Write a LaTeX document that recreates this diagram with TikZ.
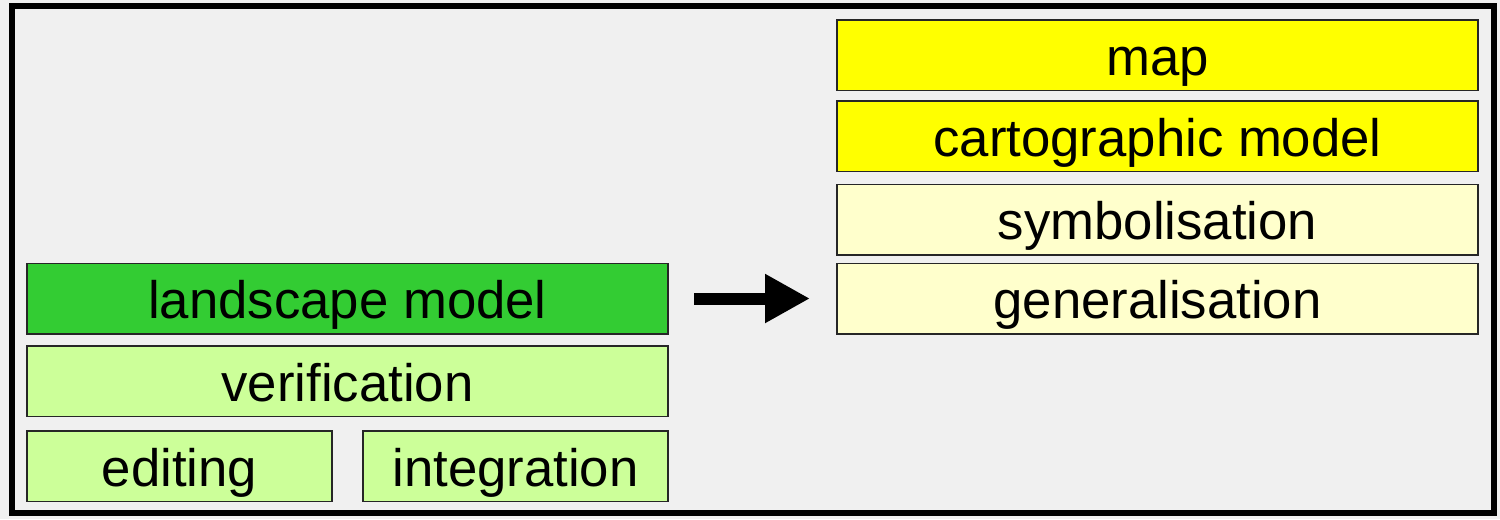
\documentclass[tikz,border=0pt]{standalone}
\usepackage{fontspec}
\setmainfont{Liberation Sans}
\usetikzlibrary{arrows.meta}
\definecolor{bggray}{HTML}{F0F0F0}
\definecolor{landgreen}{HTML}{33CC33}
\definecolor{palegreen}{HTML}{CCFF99}
\definecolor{mapyellow}{HTML}{FFFF00}
\definecolor{paleyellow}{HTML}{FFFFCC}
\tikzset{
	layer/.style={draw=black!85, line width=0.3mm, inner sep=0pt, outer sep=0pt, minimum width=12.82cm, minimum height=1.41cm, text height=29.3pt, text depth=6.5pt, font=\fontsize{30}{36}\selectfont},
	halflayer/.style={layer, minimum width=6.1cm}
}

\begin{document}
\begin{tikzpicture}
		%%%%% START %%%%%
		
		\fill[bggray] (0, 0) rectangle (30, -10.38);
		\draw[line width=0.12cm, color=black] (0.24, -0.12) rectangle (29.88, -10.26);
		
		\node[layer, fill=mapyellow] (map) at (23.15, -1.1) {map};
		\node[layer, fill=mapyellow] (carto) at (23.15, -2.72) {cartographic model};
		\node[layer, fill=paleyellow] (symbol) at (23.15, -4.39) {symbolisation};
		\node[layer, fill=paleyellow] (general) at (23.15, -5.97) {generalisation};
		
		\node[layer, fill=landgreen] (landscape) at (6.95, -5.97) {landscape model};
		\node[layer, fill=palegreen] (verify) at (6.95, -7.62) {verification};
		\node[halflayer, fill=palegreen] (editing) at (3.59, -9.32) {editing};
		\node[halflayer, fill=palegreen] (integrate) at (10.31, -9.32) {integration};
		
		\draw[line width=0.24cm, -{Triangle[length=0.9cm, width=0.92cm]}, shorten <=0.52cm, shorten >=0.54cm] (landscape.east) -- (general.west);
		
		%%%%% END %%%%%
	\end{tikzpicture}
\end{document}
